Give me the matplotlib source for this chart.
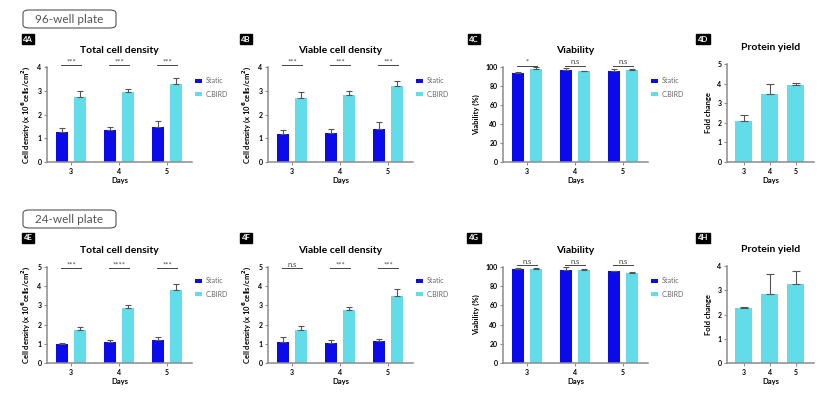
import numpy as np
import matplotlib
matplotlib.use("Agg")
import matplotlib.pyplot as plt
from matplotlib.patches import FancyBboxPatch

plt.rcParams['font.family'] = ['Lato', 'DejaVu Sans']

days = ["3", "4", "5"]

# 96-well plate
total96_static = [1.26, 1.35, 1.46]
total96_static_err = [0.16, 0.13, 0.25]
total96_cbird = [2.73, 2.95, 3.29]
total96_cbird_err = [0.24, 0.14, 0.25]

viable96_static = [1.17, 1.24, 1.39]
viable96_static_err = [0.17, 0.15, 0.28]
viable96_cbird = [2.68, 2.84, 3.18]
viable96_cbird_err = [0.27, 0.14, 0.23]

viab96_static = [93.4, 97.2, 96.2]
viab96_static_err = [1.0, 1.4, 2.1]
viab96_cbird = [97.6, 96.2, 96.9]
viab96_cbird_err = [2.1, 0.0, 0.7]

prot96 = [2.09, 3.46, 3.94]
prot96_err = [0.31, 0.51, 0.10]

# 24-well plate
total24_static = [0.98, 1.11, 1.22]
total24_static_err = [0.07, 0.07, 0.14]
total24_cbird = [1.71, 2.86, 3.82]
total24_cbird_err = [0.15, 0.15, 0.31]

viable24_static = [1.08, 1.05, 1.15]
viable24_static_err = [0.30, 0.13, 0.12]
viable24_cbird = [1.72, 2.74, 3.50]
viable24_cbird_err = [0.21, 0.19, 0.33]

viab24_static = [97.9, 96.5, 95.5]
viab24_static_err = [1.1, 3.5, 0.3]
viab24_cbird = [98.3, 97.2, 93.4]
viab24_cbird_err = [0.7, 0.4, 1.7]

prot24 = [2.27, 2.84, 3.25]
prot24_err = [0.03, 0.84, 0.56]

sig_a = ["***", "***", "***"]
sig_b = ["***", "***", "***"]
sig_c = ["*", "n.s", "n.s"]
sig_e = ["***", "****", "***"]
sig_f = ["n.s", "***", "***"]
sig_g = ["n.s", "n.s", "n.s"]

BLUE = "#0B0BEA"
CYAN = "#63DCEA"
SPINE = "#8c8c8c"
ERR = "#555555"
W, H = 831, 397

fig = plt.figure(figsize=(W / 100, H / 100), dpi=100)


def px_axes(left, top, right, bottom):
    return fig.add_axes([left / W, 1 - bottom / H, (right - left) / W, (bottom - top) / H])


def style(ax, title, ylabel, ymax, yticks):
    ax.set_ylim(0, ymax)
    ax.set_yticks(yticks)
    for s in ["top", "right"]:
        ax.spines[s].set_visible(False)
    for s in ["left", "bottom"]:
        ax.spines[s].set_color(SPINE)
        ax.spines[s].set_linewidth(1.1)
    ax.tick_params(axis="both", length=2, width=0.8, color=SPINE, labelsize=5, pad=2)
    for lab in ax.get_xticklabels() + ax.get_yticklabels():
        lab.set_fontweight("bold")
    ax.set_xlabel("Days", fontsize=5.5, fontweight="bold", labelpad=2)
    ax.set_ylabel(ylabel, fontsize=5.5, fontweight="bold", labelpad=4)
    ax.set_title(title, fontsize=7.5, fontweight="bold", pad=10)


def grouped(ax, s, se, c, ce, sig, line_y, text_y, title, ylabel, ymax, yticks):
    x = np.arange(len(days))
    off = 0.19
    bw = 0.25
    ax.bar(x - off, s, bw, color=BLUE, label="Static", zorder=2)
    ax.bar(x + off, c, bw, color=CYAN, label="C.BIRD", zorder=2)
    ax.errorbar(x - off, s, yerr=[np.zeros(3), se], fmt="none", ecolor=ERR,
                elinewidth=0.8, capsize=2.5, capthick=0.8, zorder=3)
    ax.errorbar(x + off, c, yerr=[np.zeros(3), ce], fmt="none", ecolor=ERR,
                elinewidth=0.8, capsize=2.5, capthick=0.8, zorder=3)
    ax.set_xticks(x)
    ax.set_xticklabels(days)
    ax.set_xlim(-0.5, 2.52)
    for xi, t in zip(x, sig):
        ax.plot([xi - 0.21, xi + 0.21], [line_y, line_y], color="#444444", lw=0.7, clip_on=False)
        ax.text(xi, text_y, t, ha="center", va="center", fontsize=5.5, color="#444444", clip_on=False)
    style(ax, title, ylabel, ymax, yticks)
    leg = ax.legend(loc="upper left", bbox_to_anchor=(1.0, 0.92), frameon=False,
                    fontsize=5, handlelength=1.0, handleheight=0.5, labelspacing=0.9,
                    handletextpad=0.6, borderaxespad=0.0)
    for t in leg.get_texts():
        t.set_color("#666666")


def single(ax, v, ve, title, ymax, yticks):
    x = np.arange(len(days))
    ax.bar(x, v, 0.65, color=CYAN, zorder=2)
    ax.errorbar(x, v, yerr=[np.zeros(3), ve], fmt="none", ecolor=ERR,
                elinewidth=0.8, capsize=3, capthick=0.8, zorder=3)
    ax.set_xticks(x)
    ax.set_xticklabels(days)
    ax.set_xlim(-0.65, 2.7)
    style(ax, title, "Fold change", ymax, yticks)


dens_label = r"Cell density (x 10$^\mathbf{6}$cells/cm$^\mathbf{2}$)"

axA = px_axes(47, 67, 192, 162)
grouped(axA, total96_static, total96_static_err, total96_cbird, total96_cbird_err, sig_a,
        4.07, 4.2, "Total cell density", dens_label, 4, [0, 1, 2, 3, 4])
axB = px_axes(268, 67, 413, 162)
grouped(axB, viable96_static, viable96_static_err, viable96_cbird, viable96_cbird_err, sig_b,
        4.07, 4.2, "Viable cell density", dens_label, 4, [0, 1, 2, 3, 4])
axC = px_axes(503, 67, 648, 162)
grouped(axC, viab96_static, viab96_static_err, viab96_cbird, viab96_cbird_err, sig_c,
        101.5, 105.5, "Viability", "Viability (%)", 100, [0, 20, 40, 60, 80, 100])
axD = px_axes(727, 64, 814, 162)
single(axD, prot96, prot96_err, "Protein yield", 5, [0, 1, 2, 3, 4, 5])

axE = px_axes(47, 267, 192, 363)
grouped(axE, total24_static, total24_static_err, total24_cbird, total24_cbird_err, sig_e,
        4.95, 5.12, "Total cell density", dens_label, 5, [0, 1, 2, 3, 4, 5])
axF = px_axes(268, 267, 413, 363)
grouped(axF, viable24_static, viable24_static_err, viable24_cbird, viable24_cbird_err, sig_f,
        4.95, 5.12, "Viable cell density", dens_label, 5, [0, 1, 2, 3, 4, 5])
axG = px_axes(503, 267, 648, 363)
grouped(axG, viab24_static, viab24_static_err, viab24_cbird, viab24_cbird_err, sig_g,
        102, 106, "Viability", "Viability (%)", 100, [0, 20, 40, 60, 80, 100])
axH = px_axes(727, 266, 814, 363)
single(axH, prot24, prot24_err, "Protein yield", 4, [0, 1, 2, 3, 4])

# panel tags
tags = [("4A", 28, 39), ("4B", 246, 39), ("4C", 474, 39), ("4D", 703, 39),
        ("4E", 28, 238), ("4F", 246, 238), ("4G", 474, 238), ("4H", 703, 238)]
for t, xp, yp in tags:
    fig.text(xp / W, 1 - yp / H, t, ha="center", va="center", fontsize=5.5,
             fontweight="bold", color="white",
             bbox=dict(boxstyle="square,pad=0.2", fc="black", ec="black"))

# plate boxes
for label, ytop in [("96-well plate", 10), ("24-well plate", 210)]:
    box = FancyBboxPatch((23 / W, 1 - (ytop + 18) / H), 93 / W, 18 / H,
                         boxstyle="round,pad=0,rounding_size=0.008",
                         transform=fig.transFigure, fc="white", ec="#555555", lw=0.8)
    fig.patches.append(box)
    fig.text(69.5 / W, 1 - (ytop + 9.5) / H, label, ha="center", va="center",
             fontsize=8.5, color="#555555")

fig.savefig("out.png", dpi=100, facecolor="white")
